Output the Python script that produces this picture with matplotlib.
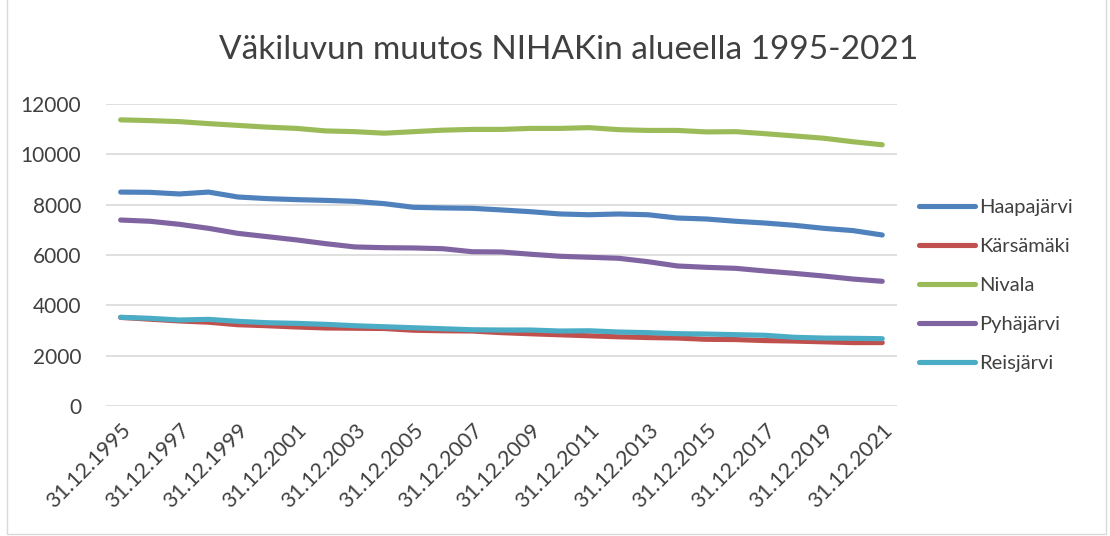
import numpy as np
import matplotlib.pyplot as plt
from matplotlib.patches import Rectangle

plt.rcParams['font.family'] = ['Lato', 'DejaVu Sans']

# years shown on the category axis
years = list(range(1995, 2022))
dates = ["31.12.%d" % y for y in years]

haapajarvi = [8500, 8490, 8425, 8500, 8305, 8240, 8200, 8170, 8130, 8040, 7895, 7870, 7855,
              7790, 7720, 7630, 7600, 7630, 7600, 7470, 7430, 7340, 7270, 7180, 7060, 6970, 6795]
karsamaki = [3520, 3450, 3380, 3330, 3230, 3190, 3140, 3100, 3090, 3080, 3010, 2990, 2980,
             2915, 2870, 2830, 2790, 2750, 2720, 2700, 2650, 2640, 2600, 2580, 2550, 2520, 2520]
nivala = [11370, 11340, 11300, 11220, 11150, 11080, 11030, 10930, 10900, 10840, 10900, 10960, 10990,
          10990, 11030, 11030, 11060, 10980, 10950, 10950, 10890, 10900, 10820, 10730, 10640, 10500, 10380]
pyhajarvi = [7390, 7340, 7220, 7060, 6860, 6730, 6600, 6450, 6320, 6290, 6280, 6250, 6130,
             6120, 6030, 5950, 5910, 5870, 5735, 5565, 5510, 5470, 5365, 5270, 5165, 5045, 4955]
reisjarvi = [3525, 3485, 3418, 3443, 3365, 3310, 3285, 3245, 3190, 3150, 3110, 3070, 3030,
             3020, 3020, 2980, 2990, 2940, 2915, 2875, 2860, 2835, 2810, 2730, 2700, 2690, 2675]

names = ["Haapajärvi", "Kärsämäki", "Nivala", "Pyhäjärvi", "Reisjärvi"]
series = [haapajarvi, karsamaki, nivala, pyhajarvi, reisjarvi]
colors = ["#4F81BD", "#C0504D", "#9BBB59", "#8064A2", "#4BACC6"]

fig = plt.figure(figsize=(11.1, 5.36), dpi=100)
ax = fig.add_axes([0.0955, 0.2425, 0.7125, 0.5635])

x = np.arange(len(dates))
for name, vals, c in zip(names, series, colors):
    ax.plot(x, vals, color=c, lw=3.7, label=name, solid_capstyle='round')

ax.set_xlim(-0.5, len(dates) - 0.5)
ax.set_ylim(0, 12000)
ax.set_yticks(np.arange(0, 12001, 2000))
ax.yaxis.grid(True, color="#D9D9D9", lw=1.2)
ax.set_axisbelow(True)
for s in ax.spines.values():
    s.set_visible(False)
ax.tick_params(length=0, labelsize=15, colors="#404040")
ax.tick_params(axis='y', pad=18)
ax.tick_params(axis='x', pad=10, labelsize=15.5)
ax.set_xticks(x[::2])
ax.set_xticklabels(dates[::2], rotation=45, ha='right', rotation_mode='anchor')

fig.suptitle("Väkiluvun muutos NIHAKin alueella 1995-2021", x=0.512, y=0.935,
             fontsize=24, color="#404040")

leg = ax.legend(loc='upper left', bbox_to_anchor=(1.005, 0.745), frameon=False,
                fontsize=14.5, labelspacing=1.08, handlelength=2.8, handletextpad=0.2)
for t in leg.get_texts():
    t.set_color("#404040")

fig.patches.append(Rectangle((0.006, 0.003), 0.99, 1.2, transform=fig.transFigure,
                             fill=False, edgecolor="#D9D9D9", lw=1))

fig.savefig("out.png", dpi=100)
